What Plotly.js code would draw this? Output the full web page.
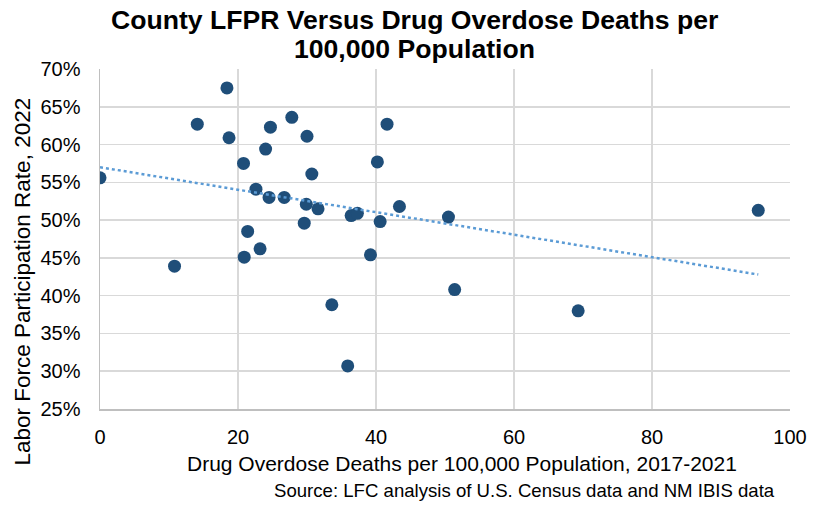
<!DOCTYPE html>
<html>
<head>
<meta charset="utf-8">
<script src="https://cdn.plot.ly/plotly-3.0.1.min.js"></script>
<style>html,body{margin:0;padding:0;background:#fff;}#chart{width:825px;height:506px;}</style>
</head>
<body>
<div id="chart"></div>
<script>
// Drug overdose deaths per 100,000 (2017-2021), by county
const deaths = [18.4, 14.1, 18.7, 24.7, 27.8, 30.0, 24.0, 20.8, 30.7, 0.0, 22.6, 24.5, 26.7, 29.9, 31.6, 29.6, 21.4, 23.2, 20.9, 10.8, 33.6, 41.6, 40.2, 43.4, 36.4, 37.3, 40.6, 50.5, 39.2, 35.9, 51.4, 69.3, 95.4];
// Labor force participation rate, 2022 (%)
const lfpr = [67.5, 62.7, 60.9, 62.3, 63.6, 61.1, 59.4, 57.5, 56.1, 55.6, 54.1, 53.0, 53.0, 52.1, 51.5, 49.6, 48.5, 46.2, 45.1, 43.9, 38.8, 62.7, 57.7, 51.8, 50.6, 50.9, 49.8, 50.4, 45.4, 30.7, 40.8, 38.0, 51.3];
// Linear trendline endpoints
const trendX = [0, 95.4];
const trendY = [57.0, 42.8];
const yTickVals = [25, 30, 35, 40, 45, 50, 55, 60, 65, 70];
const yTickText = ["25%", "30%", "35%", "40%", "45%", "50%", "55%", "60%", "65%", "70%"];
const xTickVals = [0, 20, 40, 60, 80, 100];
const titleLines = ["County LFPR Versus Drug Overdose Deaths per", "100,000 Population"];

const font = "Liberation Sans, Arial, sans-serif";
const data = [
  {x: deaths, y: lfpr, type: 'scatter', mode: 'markers',
   marker: {color: '#1f4e79', size: 13}, hoverinfo: 'x+y'},
  {x: trendX, y: trendY, type: 'scatter', mode: 'lines',
   line: {color: '#5b9bd5', width: 2.5, dash: 'dot'}, hoverinfo: 'skip'}
];
const layout = {
  width: 825, height: 506,
  margin: {l: 100, r: 35, t: 69, b: 97},
  paper_bgcolor: '#fff', plot_bgcolor: '#fff',
  showlegend: false,
  font: {family: font, color: '#000', size: 20},
  xaxis: {range: [0, 100], tickvals: xTickVals, showgrid: true, gridcolor: '#d9d9d9', gridwidth: 1.5,
          showline: true, linecolor: '#bfbfbf', linewidth: 1.5, zeroline: false,
          ticks: '', tickfont: {size: 20}, ticklabelstandoff: 9},
  yaxis: {range: [25, 70], tickvals: yTickVals, ticktext: yTickText, showgrid: true, gridcolor: '#d9d9d9', gridwidth: 1.5,
          showline: true, linecolor: '#bfbfbf', linewidth: 1.5, zeroline: false,
          ticks: '', tickfont: {size: 20}, ticklabelstandoff: 14},
  annotations: [
    {text: '<b>' + titleLines[0] + '</b>', xref: 'paper', yref: 'paper',
     x: 0.456, y: 1.144, xanchor: 'center', yanchor: 'middle', showarrow: false, font: {size: 26.6}},
    {text: '<b>' + titleLines[1] + '</b>', xref: 'paper', yref: 'paper',
     x: 0.456, y: 1.06, xanchor: 'center', yanchor: 'middle', showarrow: false, font: {size: 26.6}},
    {text: 'Drug Overdose Deaths per 100,000 Population, 2017-2021', xref: 'paper', yref: 'paper',
     x: 0.5246, y: -0.159, xanchor: 'center', yanchor: 'middle', showarrow: false, font: {size: 21}},
    {text: 'Labor Force Participation Rate, 2022', xref: 'paper', yref: 'paper',
     x: -0.113, y: 0.375, xanchor: 'center', yanchor: 'middle', textangle: -90, showarrow: false, font: {size: 22.5}},
    {text: 'Source: LFC analysis of U.S. Census data and NM IBIS data', xref: 'paper', yref: 'paper',
     x: 0.9815, y: -0.241, xanchor: 'right', yanchor: 'middle', showarrow: false, font: {size: 18.6}}
  ]
};
Plotly.newPlot('chart', data, layout, {displayModeBar: false, staticPlot: true});
</script>
</body>
</html>
